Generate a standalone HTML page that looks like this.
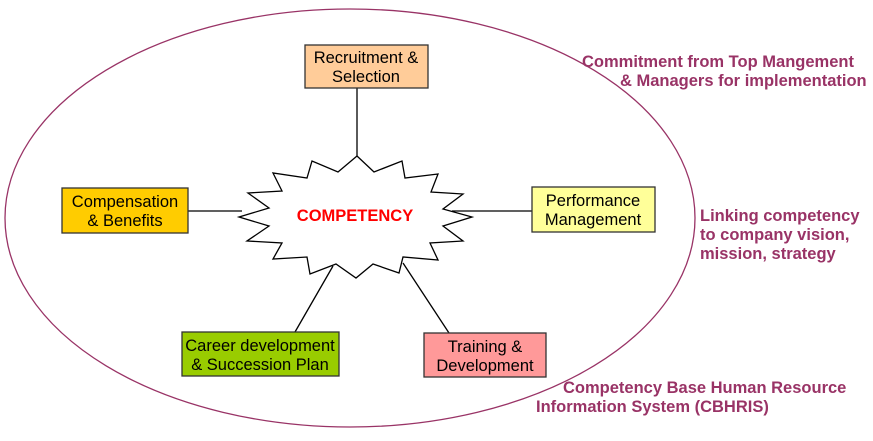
<!DOCTYPE html>
<html><head><style>body{margin:0;background:#fff}svg{display:block}text{font-family:"Liberation Sans",Arial,sans-serif}</style></head><body>
<svg width="873" height="441" xmlns="http://www.w3.org/2000/svg">
<ellipse cx="350" cy="218" rx="345" ry="209" fill="none" stroke="#993366" stroke-width="1.3"/>
<g stroke="#000" stroke-width="1.3">
<line x1="357" y1="88" x2="357" y2="156"/>
<line x1="188" y1="211" x2="242" y2="211"/>
<line x1="452" y1="211" x2="532" y2="211"/>
<line x1="333" y1="266" x2="295" y2="332"/>
<line x1="403" y1="263" x2="449" y2="333"/>
</g>
<polygon fill="#fff" stroke="#000" stroke-width="1.3" points="357,156 374,172 402,161 405,178 438,174 431,192 463,194 443,209 472,217 443,226 463,241 430,243 438,260 403,257 399,273 373,264 356,278 336,264 310,274 307,257 273,259 282,243 247,241 269,226 239,217 269,208 248,193 282,191 273,173 307,178 312,161 338,172"/>
<text x="355" y="221" text-anchor="middle" font-weight="bold" font-size="16.5" fill="#ff0000">COMPETENCY</text>
<g stroke="#333" stroke-width="1.3">
<rect x="305" y="45" width="123" height="43" fill="#ffcc99"/>
<rect x="62" y="188" width="126" height="45" fill="#ffcc00"/>
<rect x="532" y="187" width="123" height="45" fill="#ffff99"/>
<rect x="182" y="332" width="157" height="44" fill="#99cc00"/>
<rect x="424" y="333" width="122" height="44" fill="#ff9999"/>
</g>
<g font-size="16.5" fill="#000" text-anchor="middle">
<text x="366" y="63">Recruitment &amp;</text><text x="366" y="82">Selection</text>
<text x="125" y="207">Compensation</text><text x="125" y="226">&amp; Benefits</text>
<text x="593" y="206">Performance</text><text x="593" y="225">Management</text>
<text x="260" y="351">Career development</text><text x="260" y="370">&amp; Succession Plan</text>
<text x="485" y="352">Training &amp;</text><text x="485" y="371">Development</text>
</g>
<g font-size="16.5" font-weight="bold" fill="#993366">
<text x="582" y="67">Commitment from Top Mangement</text>
<text x="620" y="86">&amp; Managers for implementation</text>
<text x="700" y="221">Linking competency</text>
<text x="700" y="240">to company vision,</text>
<text x="700" y="259">mission, strategy</text>
<text x="563" y="393">Competency Base Human Resource</text>
<text x="536" y="412">Information System (CBHRIS)</text>
</g>
</svg>
</body></html>
